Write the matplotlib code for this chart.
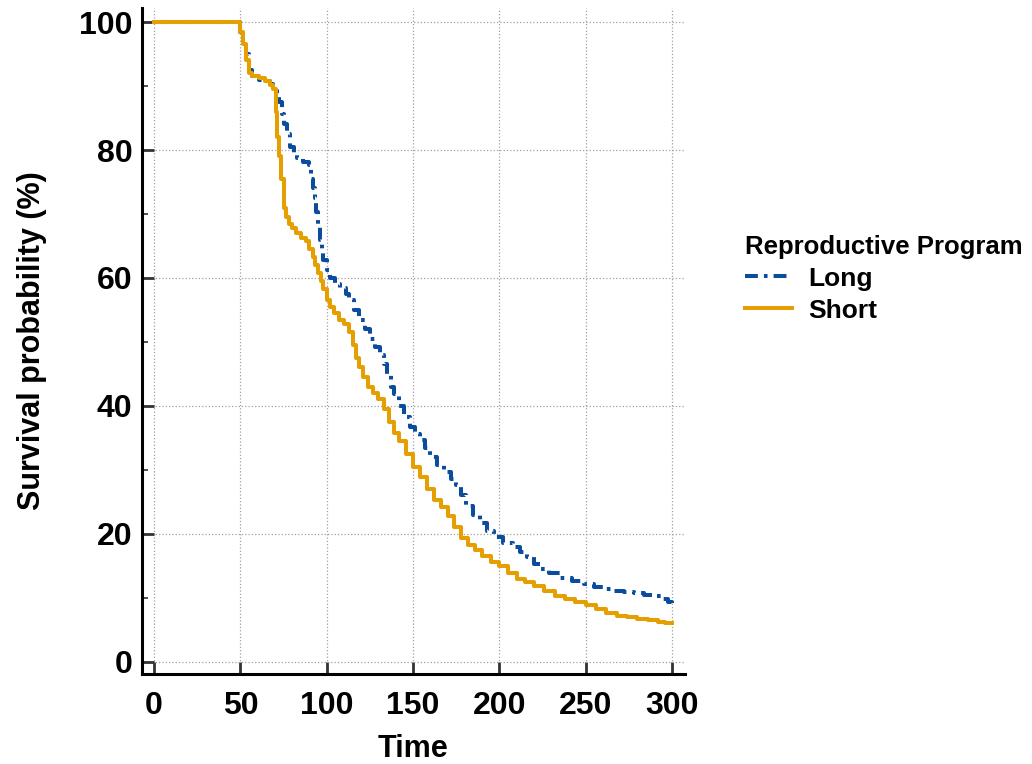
import matplotlib.pyplot as plt
import matplotlib as mpl

mpl.rcParams['font.family'] = ['Liberation Sans', 'DejaVu Sans']
mpl.rcParams['font.weight'] = 'bold'

# Kaplan-Meier steps (time, survival %)
short_t = [0, 50, 51.5, 53, 55, 57, 61, 64, 67, 69, 70.5, 71.5, 72.5, 73.5, 75,
           76.5, 78, 80, 82.5, 85, 88, 90, 92, 93.5, 95, 96.5, 98, 100, 102, 104,
           107, 110, 113, 115, 117, 119, 121, 124, 127, 130, 133, 136, 139, 142,
           146, 150, 154, 158, 162, 166, 170, 174, 178, 182, 186, 190, 195, 200,
           205, 210, 215, 220, 226, 232, 238, 244, 250, 256, 262, 268, 274, 280,
           286, 292, 296, 300]
short_s = [100, 98.5, 96.5, 94, 92, 91.6, 91.2, 90.8, 90.2, 89.5, 86, 82, 79, 75.5, 71,
           69.5, 68.5, 67.8, 67, 66.3, 65.8, 64.5, 63.3, 62, 60.8, 59.5, 58.2, 56.5, 55.5, 54.5,
           53.4, 52.8, 51.5, 49.5, 47.5, 46, 44.5, 43, 42, 41, 39.5, 37.5, 35.7, 34.5,
           32.5, 30.5, 28.8, 27, 25.3, 24.2, 22.8, 21, 19.4, 18.3, 17.4, 16.6, 15.6, 14.9,
           13.8, 13, 12.4, 11.8, 11, 10.3, 9.8, 9.3, 8.8, 8.2, 7.6, 7.2, 7.0, 6.7,
           6.5, 6.2, 6.0, 6.0]

long_t = [0, 50, 51.5, 53, 55, 57, 61, 64, 67, 69, 71, 72.5, 74, 75.5, 77, 79, 81, 83,
          86, 90, 91, 92, 93, 94, 95, 96, 97, 98, 100, 102, 105, 108, 111, 113, 116,
          119, 122, 125, 128, 131, 133, 135, 137, 139, 142, 145, 148, 151, 154, 157,
          160, 164, 168, 172, 175, 178, 181, 185, 189, 193, 197, 202, 208, 212, 216,
          220, 224, 229, 235, 242, 249, 255, 260, 266, 272, 278, 284, 290, 294, 298, 300]
long_s = [100, 98.5, 97, 95, 92.5, 91.5, 91, 90.8, 90.3, 89.8, 88.8, 87.5, 85.7, 84, 82.5, 80.5, 79.3, 78.7,
          78.2, 77.7, 75.5, 74, 72.5, 70.3, 68, 65.9, 64, 62.8, 61.2, 60, 59, 58.4, 57.5, 56.5, 55,
          53.4, 52, 50.5, 49.2, 48, 46.5, 45, 43, 41.8, 40, 38.3, 36.7, 35.6, 34.7, 33.4,
          32, 30.8, 29.6, 28.5, 27.6, 26, 24.3, 22.9, 21.7, 20.5, 19.5, 18.6, 18, 17.2, 16.4,
          15.3, 14.5, 13.8, 13.1, 12.6, 12.2, 11.7, 11.3, 11.1, 10.9, 10.7, 10.5, 10.2, 9.8, 9.4, 9.2]

fig = plt.figure(figsize=(10.32, 7.64), dpi=100)
ax = fig.add_axes([0.1376, 0.118, 0.526, 0.8715])

ax.plot(long_t, long_s, drawstyle='steps-post', color='#0B4C9C', lw=2.9,
        linestyle=(0, (3.2, 1.5, 0.9, 1.5)), label='Long')
ax.plot(short_t, short_s, drawstyle='steps-post', color='#E69F00', lw=2.9,
        label='Short')

ax.set_xlim(-7, 307.5)
ax.set_ylim(-1.9, 102.2)
ax.set_xticks([0, 50, 100, 150, 200, 250, 300])
ax.set_yticks([0, 20, 40, 60, 80, 100])
ax.set_yticks([10, 30, 50, 70, 90], minor=True)
ax.grid(True, which='major', linestyle=':', color='#a0a0a0', lw=0.9)
ax.set_axisbelow(True)

for s in ['top', 'right']:
    ax.spines[s].set_visible(False)
for s in ['left', 'bottom']:
    ax.spines[s].set_linewidth(2.2)

ax.tick_params(which='major', direction='in', length=8.5, width=2, color='#333333',
               labelsize=23)
ax.tick_params(axis='x', which='major', pad=12)
ax.tick_params(axis='y', which='major', pad=7)
ax.tick_params(which='minor', direction='in', length=4, width=1.2, color='#333333')
for lab in ax.get_xticklabels() + ax.get_yticklabels():
    lab.set_fontweight('bold')

ax.set_xlabel('Time', fontsize=22, fontweight='bold', labelpad=10)
ax.set_ylabel('Survival probability (%)', fontsize=22, fontweight='bold', labelpad=23)

leg = fig.legend(loc='upper left', bbox_to_anchor=(0.709, 0.71), frameon=False,
                 title='Reproductive Program', fontsize=19, title_fontsize=18.5,
                 handlelength=1.8, borderpad=0, labelspacing=0.3, handletextpad=0.6)
leg._legend_box.align = 'left'
leg.get_title().set_fontweight('bold')

fig.savefig('out.png', dpi=100)
